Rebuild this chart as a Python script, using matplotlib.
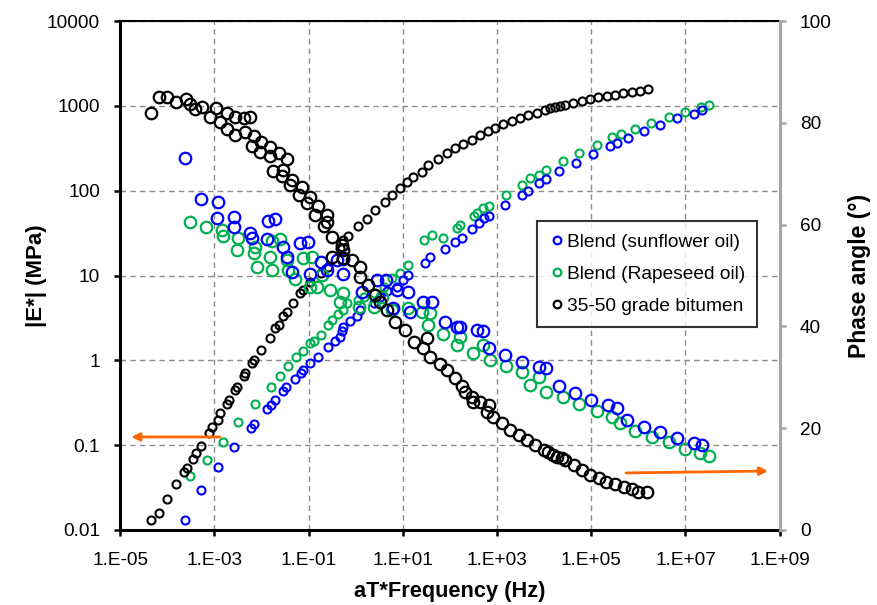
import matplotlib
matplotlib.use("Agg")
import matplotlib.pyplot as plt
from matplotlib.ticker import FixedLocator, FuncFormatter, NullLocator
import numpy as np

plt.rcParams['font.family'] = ['Liberation Sans', 'DejaVu Sans']

# 35-50 grade bitumen: |E*| (MPa) vs reduced frequency (Hz)
bit_mod_f = [4.5e-5, 6.8e-5, 1.0e-4, 1.5e-4, 2.3e-4, 2.6e-4, 3.5e-4, 4.1e-4, 5.2e-4, 7.6e-4,
             8.9e-4, 1.2e-3, 1.3e-3, 1.9e-3, 2.0e-3, 2.8e-3, 3.0e-3, 4.2e-3, 4.5e-3, 6.3e-3,
             6.8e-3, 1.0e-2, 1.5e-2, 1.95e-2, 2.3e-2, 2.9e-2, 3.5e-2, 4.7e-2, 6.6e-2, 7.8e-2,
             0.107, 0.18, 0.26, 0.47, 0.54, 0.69, 1.12, 1.7, 2.6, 4.2,
             5.9, 8.8, 12.4, 16.5, 26, 35, 56, 88, 129, 190,
             295, 437, 645, 910, 1350, 2090, 3090, 4570, 7100, 10500,
             13500, 17400, 22000, 28000, 41500, 65000, 96000, 1.4e5, 2.2e5, 3.2e5,
             4.8e5, 7.4e5, 1.1e6, 1.6e6]
bit_mod = [0.013, 0.016, 0.023, 0.035, 0.048, 0.054, 0.069, 0.080, 0.098, 0.14,
           0.166, 0.20, 0.24, 0.31, 0.34, 0.45, 0.49, 0.65, 0.71, 0.93,
           1.0, 1.32, 1.86, 2.4, 2.6, 3.3, 3.7, 4.7, 6.2, 6.8,
           8.5, 10.7, 12.7, 21, 26, 29, 38, 46, 60, 74,
           90, 108, 126, 145, 166, 200, 235, 280, 318, 355,
           398, 457, 510, 550, 615, 667, 720, 780, 825, 895,
           950, 975, 1000, 1030, 1095, 1160, 1210, 1285, 1320, 1350,
           1420, 1470, 1510, 1590]

# 35-50 grade bitumen: phase angle (deg)
bit_pha_f = [4.5e-5, 6.8e-5, 1.0e-4, 1.5e-4, 2.5e-4, 3.1e-4, 3.9e-4, 5.4e-4, 8.1e-4, 1.1e-3,
             1.3e-3, 1.9e-3, 1.9e-3, 2.8e-3, 2.8e-3, 4.2e-3, 5.8e-3, 4.5e-3, 6.3e-3, 6.8e-3,
             1.0e-2, 9.3e-3, 1.5e-2, 1.5e-2, 2.3e-2, 3.5e-2, 1.8e-2, 2.9e-2, 2.7e-2, 4.5e-2,
             4.1e-2, 7.2e-2, 6.2e-2, 0.107, 9.1e-2, 0.16, 0.14, 0.25, 0.25, 0.21,
             0.31, 0.51, 0.54, 0.31, 0.55, 0.83, 1.26, 1.26, 1.86, 2.6,
             3.3, 4.6, 6.9, 11.2, 17, 27.5, 32, 38, 62, 85,
             129, 178, 209, 295, 316, 437, 660, 600, 830, 1260,
             1900, 2900, 4300, 6500, 9800, 12300, 15800, 18600, 24000, 28000,
             43000, 63000, 95000, 1.45e5, 2.1e5, 3.2e5, 4.9e5, 7.2e5, 1.0e6, 1.5e6]
bit_pha = [81.9, 85.0, 85.0, 84.1, 84.7, 83.7, 82.7, 83.2, 81.2, 83.0,
           80.2, 81.9, 78.9, 81.2, 77.6, 80.9, 81.2, 78.3, 75.4, 77.4,
           76.3, 74.3, 75.3, 73.5, 74.0, 73.0, 70.6, 70.7, 69.5, 68.8,
           67.8, 67.4, 65.8, 65.5, 64.2, 63.7, 61.9, 61.9, 60.6, 59.7,
           57.5, 56.0, 55.0, 53.7, 53.4, 53.0, 51.7, 49.8, 48.1, 46.2,
           44.8, 43.2, 40.9, 39.3, 37.0, 35.7, 37.7, 34.0, 32.7, 31.4,
           29.8, 28.2, 27.2, 26.2, 25.2, 25.2, 24.6, 23.2, 22.3, 21.0,
           19.6, 18.7, 17.7, 16.7, 15.7, 15.4, 14.7, 14.4, 14.1, 13.8,
           12.8, 11.8, 10.8, 10.2, 9.5, 9.0, 8.5, 8.0, 7.5, 7.5]

# Blend (sunflower oil)
sun_mod_f = [2.4e-4, 5.1e-4, 1.2e-3, 2.6e-3, 6.0e-3, 6.8e-3, 0.013, 0.016, 0.019, 0.029,
             0.033, 0.052, 0.069, 0.078, 0.107, 0.16, 0.26, 0.36, 0.47, 0.51,
             0.55, 0.77, 1.07, 1.25, 2.4, 3.3, 4.6, 7.5, 10.3, 13,
             30, 38, 80, 130, 180, 290, 405, 520, 660, 1480,
             3400, 4500, 7600, 11000, 21000, 48000, 1.1e5, 2.5e5, 3.5e5, 5.9e5,
             1.3e6, 2.9e6, 6.6e6, 1.5e7, 2.2e7]
sun_mod = [0.013, 0.030, 0.056, 0.096, 0.16, 0.18, 0.27, 0.30, 0.34, 0.43,
           0.48, 0.60, 0.71, 0.78, 0.93, 1.1, 1.45, 1.7, 1.9, 2.2,
           2.5, 2.9, 3.3, 3.9, 4.7, 5.6, 6.5, 7.4, 8.9, 10.2,
           14, 16.6, 20.6, 25, 28, 35, 42, 48, 50, 68,
           89, 100, 123, 138, 170, 214, 270, 340, 363, 417,
           510, 600, 720, 810, 890]
sun_pha_f = [2.4e-4, 5.1e-4, 1.2e-3, 1.15e-3, 2.6e-3, 2.6e-3, 5.8e-3, 6.3e-3, 1.35e-2, 1.95e-2,
             1.3e-2, 2.9e-2, 6.6e-2, 9.5e-2, 3.5e-2, 0.18, 0.40, 0.55, 4.5e-2, 0.107,
             0.25, 0.55, 1.35, 2.8, 4.3, 7.4, 13, 6.3, 14.5, 27.5,
             42, 79, 141, 166, 372, 513, 660, 1480, 3400, 7600,
             11200, 20400, 45700, 1.0e5, 2.3e5, 3.5e5, 5.8e5, 1.3e6, 2.9e6, 6.6e6,
             1.5e7, 2.2e7]
sun_pha = [73.2, 65.0, 64.5, 61.4, 61.6, 59.6, 58.4, 57.3, 60.8, 61.2,
           57.1, 55.7, 56.4, 56.6, 53.7, 52.7, 53.0, 53.2, 50.7, 50.4,
           51.1, 50.4, 46.8, 49.1, 49.1, 47.2, 46.8, 43.6, 42.9, 44.9,
           44.9, 40.9, 39.9, 39.9, 39.3, 39.2, 35.7, 34.4, 33.1, 32.1,
           31.8, 28.2, 26.9, 25.5, 24.6, 23.9, 21.6, 20.3, 19.3, 18.0,
           17.0, 16.7]

# Blend (Rapeseed oil)
rap_mod_f = [3.1e-4, 6.9e-4, 1.5e-3, 3.2e-3, 7.4e-3, 0.016, 0.025, 0.037, 0.055, 0.078,
             0.107, 0.13, 0.18, 0.26, 0.32, 0.43, 0.55, 0.64, 1.1, 1.5,
             2.4, 3.9, 5.9, 8.7, 13, 28, 42, 72, 140, 165,
             320, 370, 510, 690, 1580, 3400, 4900, 7600, 11000, 25000,
             56000, 1.3e5, 2.8e5, 4.2e5, 8.5e5, 1.9e6, 4.4e6, 1.0e7, 2.1e7, 3.1e7]
rap_mod = [0.043, 0.066, 0.11, 0.19, 0.31, 0.49, 0.65, 0.85, 1.1, 1.3,
           1.6, 1.7, 2.0, 2.6, 3.0, 3.5, 3.9, 4.7, 5.1, 5.6,
           6.2, 7.4, 9.3, 10.7, 13.5, 26, 30, 28, 36, 40,
           51, 54, 62, 66, 89, 117, 141, 155, 178, 222,
           277, 345, 427, 470, 540, 630, 740, 850, 980, 1030]
rap_pha_f = [3.1e-4, 6.8e-4, 1.45e-3, 1.55e-3, 3.2e-3, 3.0e-3, 7.4e-3, 6.8e-3, 1.66e-2, 2.5e-2,
             1.5e-2, 3.5e-2, 7.8e-2, 0.117, 7.9e-3, 1.66e-2, 3.7e-2, 5.2e-2, 0.107, 0.15,
             0.19, 0.29, 0.47, 0.55, 1.15, 2.4, 3.6, 5.9, 13, 25,
             38, 35, 72, 141, 166, 316, 500, 720, 1580, 3400,
             5100, 7600, 11200, 25000, 56000, 1.3e5, 2.8e5, 4.0e5, 8.5e5, 1.95e6,
             4.4e6, 1.0e7, 2.0e7, 3.1e7]
rap_pha = [60.6, 59.5, 58.9, 57.8, 57.3, 55.1, 55.7, 54.4, 56.8, 57.1,
           53.6, 53.0, 53.4, 53.6, 51.7, 51.1, 51.1, 49.4, 47.8, 47.8,
           50.1, 47.2, 44.9, 46.5, 43.9, 43.9, 45.8, 43.2, 43.6, 42.9,
           42.6, 40.3, 38.6, 36.3, 37.9, 34.7, 36.3, 33.5, 32.2, 31.1,
           28.5, 30.1, 27.2, 26.2, 24.8, 23.4, 22.3, 21.0, 19.5, 18.3,
           17.2, 15.9, 15.1, 14.5]

labels = ['Blend (sunflower oil)', 'Blend (Rapeseed oil)', '35-50 grade bitumen']
colors = ['#0000ff', '#00b050', '#000000']

fig = plt.figure(figsize=(8.77, 6.05), dpi=100)
ax = fig.add_axes([0.137, 0.124, 0.752, 0.841])
ax2 = ax.twinx()

small = dict(marker='o', ls='none', mfc='none', ms=5.8, mew=1.5)
big = dict(marker='o', ls='none', mfc='none', ms=8.3, mew=1.6)

ax.plot(rap_mod_f, rap_mod, color=colors[1], **small)
ax.plot(sun_mod_f, sun_mod, color=colors[0], **small)
ax.plot(bit_mod_f, bit_mod, color=colors[2], **small)
ax2.plot(rap_pha_f, rap_pha, color=colors[1], **big)
ax2.plot(sun_pha_f, sun_pha, color=colors[0], **big)
ax2.plot(bit_pha_f, bit_pha, color=colors[2], **big)

ax.set_xscale('log')
ax.set_yscale('log')
ax.set_xlim(1e-5, 1e9)
ax.set_ylim(0.01, 10000)
ax2.set_ylim(0, 100)

xt = [10.0 ** e for e in range(-5, 10, 2)]
ax.xaxis.set_major_locator(FixedLocator(xt))
ax.xaxis.set_minor_locator(NullLocator())
ax.xaxis.set_major_formatter(FuncFormatter(lambda v, p: '1.E%+03d' % int(round(np.log10(v)))))
ax.yaxis.set_major_locator(FixedLocator([10.0 ** e for e in range(-2, 5)]))
ax.yaxis.set_minor_locator(NullLocator())
ax.yaxis.set_major_formatter(FuncFormatter(lambda v, p: '%g' % v))
ax2.set_yticks(range(0, 101, 20))

ax.grid(True, which='major', color='#8c8c8c', ls=(0, (4, 3)), lw=1.0)
ax.set_axisbelow(True)

for s in ['left', 'bottom']:
    ax.spines[s].set_linewidth(2.2)
ax.spines['top'].set_linewidth(1.5)
ax2.spines['right'].set_color('#a6a6a6')
ax2.spines['right'].set_linewidth(2.2)
for s in ['left', 'bottom', 'top']:
    ax2.spines[s].set_visible(False)

ax.tick_params(axis='y', direction='out', length=4.5, width=1.8, labelsize=13.7, pad=10)
ax.tick_params(axis='x', direction='out', length=4.5, width=1.8, labelsize=13.7, pad=11)
ax2.tick_params(axis='y', direction='out', length=4.5, width=1.8, color='#a6a6a6',
                labelsize=13.7, pad=10)

ax.set_xlabel('aT*Frequency (Hz)', fontsize=15.7, fontweight='bold', labelpad=9)
ax.set_ylabel('|E*| (MPa)', fontsize=16, fontweight='bold', labelpad=0)
ax2.set_ylabel('Phase angle (°)', fontsize=16.5, fontweight='bold', labelpad=12)

# orange arrows pointing to the relevant axis
ax.annotate('', xy=(1.5e-5, 0.125), xytext=(1.5e-3, 0.125),
            arrowprops=dict(arrowstyle='-|>', color='#ff6600', lw=2, mutation_scale=12))
ax2.annotate('', xy=(6.5e8, 11.6), xytext=(4.8e5, 11.2),
             arrowprops=dict(arrowstyle='-|>', color='#ff6600', lw=2, mutation_scale=12))

handles = [plt.Line2D([], [], marker='o', ls='none', mfc='none', ms=5.5, mew=1.6, color=c)
           for c in colors]
leg = ax2.legend(handles, labels, loc='upper right', bbox_to_anchor=(0.966, 0.607),
                 fontsize=13.8, frameon=True, fancybox=False, handletextpad=0.1,
                 handlelength=0.8, borderpad=0.65, labelspacing=0.75, borderaxespad=0)
leg.get_frame().set_edgecolor('black')
leg.get_frame().set_linewidth(1.5)

fig.savefig('out.png', dpi=100)
